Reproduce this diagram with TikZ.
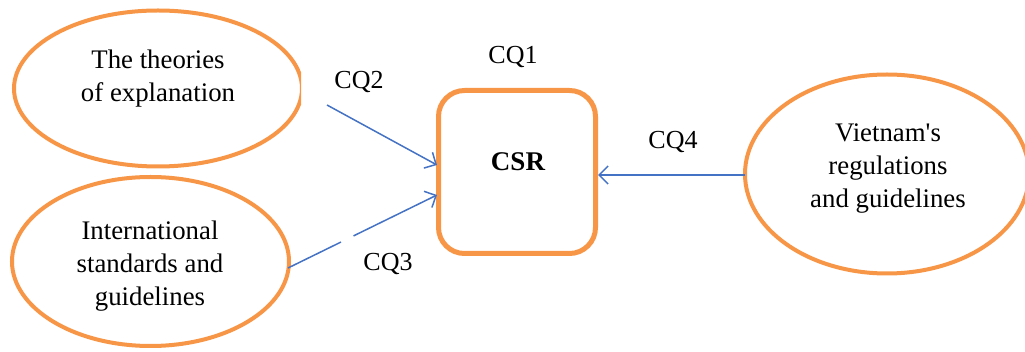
\documentclass[tikz,border=0pt]{standalone}
\usepackage{fontspec}
\setmainfont{Liberation Serif}
\usetikzlibrary{shapes.geometric,arrows.meta}
\definecolor{borange}{RGB}{247,150,70}
\definecolor{cqblue}{RGB}{68,114,196}
\tikzset{
  bubble/.style={ellipse,draw=borange,line width=4pt,inner sep=0pt},
  bubbletext/.style={align=center,inner sep=0pt,font=\fontsize{26.8}{33}\selectfont},
  core/.style={draw=borange,line width=5pt,rounded corners=26pt,minimum width=157pt,
    minimum height=163pt,inner sep=0pt},
  link/.style={draw=cqblue,line width=1.5pt,-{Straight Barb[length=9pt,width=18pt,line width=1.5pt]}},
  cqlabel/.style={font=\fontsize{26}{30}\selectfont,inner sep=0pt}
}
\begin{document}
\begin{tikzpicture}[x=1pt,y=-1pt]
\useasboundingbox (0,0) rectangle (1025,352);
\begin{scope}
\clip (0,0) rectangle (301,172);
\node[bubble,minimum width=288pt,minimum height=156pt] (theory) at (158,88.5) {};
\end{scope}
\node[bubbletext] (theorytext) at (158,79) {The theories\\of explanation};
\node[bubble,minimum width=277pt,minimum height=169pt] (intl) at (150.5,261.5) {};
\node[bubbletext] (intltext) at (150,266) {International\\standards and\\guidelines};
\node[bubble,minimum width=284pt,minimum height=199pt] (viet) at (887,174) {};
\node[bubbletext] (viettext) at (888,168.5) {Vietnam\textquotesingle s\\regulations\\and guidelines};
\node[core] (csr) at (517,172) {};
\node[font=\fontsize{27}{33}\selectfont\bfseries,inner sep=0pt] (csrtext) at (518,162) {CSR};
\coordinate (q2start) at (327,105);
\coordinate (q2end) at (437,165);
\coordinate (q3start) at (288,268);
\coordinate (q3end) at (437,195);
\coordinate (q4start) at (745,175);
\coordinate (q4end) at (598,175);
\draw[link] (q2start) -- (q2end);
\draw[link,dash pattern=on 59pt off 14pt on 300pt] (q3start) -- (q3end);
\draw[link] (q4start) -- (q4end);
\node[cqlabel] (cq1) at (513,57) {CQ1};
\node[cqlabel] (cq2) at (359,82) {CQ2};
\node[cqlabel] (cq3) at (388,264) {CQ3};
\node[cqlabel] (cq4) at (673,142) {CQ4};
\end{tikzpicture}
\end{document}
